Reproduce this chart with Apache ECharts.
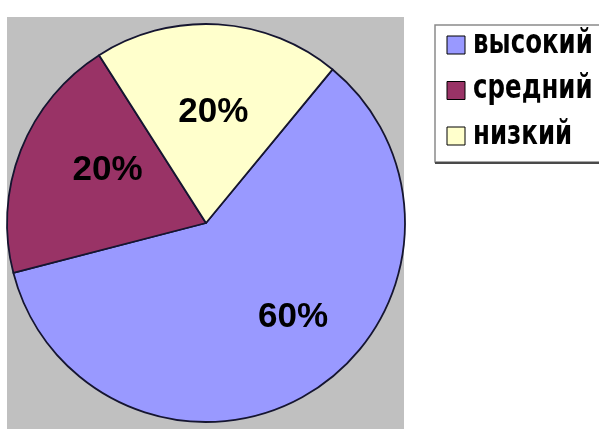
<!DOCTYPE html>
<html>
<head>
<meta charset="utf-8">
<script src="https://cdn.jsdelivr.net/npm/echarts@6/dist/echarts.min.js"></script>
<style>
  html, body { margin: 0; padding: 0; background: #fff; overflow: hidden; }
  #chart { width: 599px; height: 429px; }
</style>
</head>
<body>
<div id="chart"></div>
<script>
// Share of levels: high / medium / low
const categories = ['высокий', 'средний', 'низкий'];
const shares = [60, 20, 20];
const colors = ['#9999FF', '#993366', '#FFFFCC'];

// small nudges for the inside percent labels (per slice)
const labelNudge = [[32, 8], [-3, -15], [1, -8]];

const chart = echarts.init(document.getElementById('chart'), null, { renderer: 'canvas' });

// Key box on the right: swatch + condensed caption per category
const keyLeft = 435, keyTop = 25, rowStep = 45.5;
const keyItems = [];
categories.forEach((name, i) => {
  const cy = keyTop + 20 + i * rowStep;
  keyItems.push({
    type: 'rect',
    shape: { x: 447, y: cy - 9, width: 18, height: 18 },
    style: { fill: colors[i], stroke: '#000', lineWidth: 1 }
  });
  keyItems.push({
    type: 'text',
    x: 473,
    y: cy - 1,
    scaleX: 0.72,
    style: {
      text: name,
      fill: '#000',
      font: 'bold 34px "DejaVu Sans", sans-serif',
      verticalAlign: 'middle',
      align: 'left'
    }
  });
});

chart.setOption({
  animation: false,
  backgroundColor: '#ffffff',
  graphic: [
    {
      type: 'rect',
      z: -10,
      shape: { x: 7, y: 17, width: 397, height: 420 },
      style: { fill: '#C0C0C0' }
    },
    {
      type: 'rect',
      shape: { x: keyLeft, y: keyTop, width: 200, height: 137 },
      style: { fill: '#ffffff', stroke: '#8a8a8a', lineWidth: 1.5 }
    },
    {
      type: 'line',
      shape: { x1: keyLeft, y1: keyTop + 138, x2: 600, y2: keyTop + 138 },
      style: { stroke: '#4a4a4a', lineWidth: 2 }
    },
    { type: 'group', children: keyItems }
  ],
  series: [{
    type: 'pie',
    center: [206, 223],
    radius: 199,
    startAngle: 50.5,
    clockwise: true,
    silent: true,
    data: categories.map((name, i) => ({
      name: name,
      value: shares[i],
      itemStyle: { color: colors[i] }
    })),
    itemStyle: { borderColor: '#151530', borderWidth: 1.8 },
    label: {
      show: true,
      position: 'inside',
      formatter: (p) => p.value + '%',
      fontFamily: '"Liberation Sans", Arial, sans-serif',
      fontWeight: 'bold',
      fontSize: 35,
      color: '#000'
    },
    labelLine: { show: false },
    labelLayout: (p) => ({ dx: labelNudge[p.dataIndex][0], dy: labelNudge[p.dataIndex][1] })
  }]
});
</script>
</body>
</html>
